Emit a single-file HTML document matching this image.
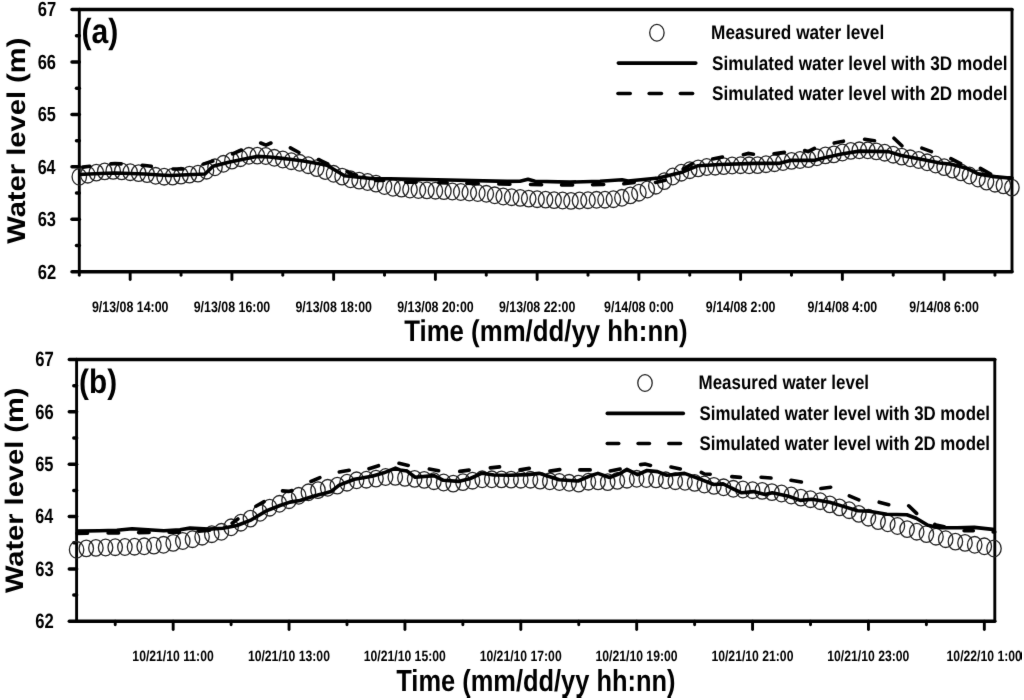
<!DOCTYPE html>
<html><head><meta charset="utf-8"><style>
html,body{margin:0;padding:0;background:#fff;}
svg{display:block;}
svg{filter:grayscale(1);}
text{text-rendering:geometricPrecision;font-family:"Liberation Sans",sans-serif;font-weight:bold;fill:#000;}
</style></head><body>
<svg width="1024" height="700" viewBox="0 0 1024 700">
<defs><filter id="bl" x="0" y="0" width="1" height="1" color-interpolation-filters="sRGB"><feConvolveMatrix order="3" kernelMatrix="0.00524 0.06192 0.00524 0.06192 0.73137 0.06192 0.00524 0.06192 0.00524" edgeMode="duplicate" preserveAlpha="false"/></filter></defs>
<rect width="1024" height="700" fill="#fff"/>
<g filter="url(#bl)">
<g stroke="#000" stroke-linecap="round">
<line x1="79.30" y1="9.60" x2="1012.00" y2="9.60" stroke-width="3.5"/>
<line x1="79.30" y1="271.70" x2="1012.00" y2="271.70" stroke-width="3.5"/>
<line x1="79.30" y1="9.60" x2="79.30" y2="271.70" stroke-width="2.9"/>
<line x1="1012.00" y1="9.60" x2="1012.00" y2="271.70" stroke-width="2.9"/>
<line x1="72.00" y1="9.60" x2="79.30" y2="9.60" stroke-width="3.5"/>
<line x1="72.00" y1="62.02" x2="79.30" y2="62.02" stroke-width="3.5"/>
<line x1="72.00" y1="114.44" x2="79.30" y2="114.44" stroke-width="3.5"/>
<line x1="72.00" y1="166.86" x2="79.30" y2="166.86" stroke-width="3.5"/>
<line x1="72.00" y1="219.28" x2="79.30" y2="219.28" stroke-width="3.5"/>
<line x1="72.00" y1="271.70" x2="79.30" y2="271.70" stroke-width="3.5"/>
<line x1="76.50" y1="35.81" x2="79.30" y2="35.81" stroke-width="3.5"/>
<line x1="76.50" y1="88.23" x2="79.30" y2="88.23" stroke-width="3.5"/>
<line x1="76.50" y1="140.65" x2="79.30" y2="140.65" stroke-width="3.5"/>
<line x1="76.50" y1="193.07" x2="79.30" y2="193.07" stroke-width="3.5"/>
<line x1="76.50" y1="245.49" x2="79.30" y2="245.49" stroke-width="3.5"/>
<line x1="79.30" y1="271.70" x2="79.30" y2="275.30" stroke-width="2.9"/>
<line x1="130.17" y1="271.70" x2="130.17" y2="279.50" stroke-width="2.9"/>
<line x1="181.04" y1="271.70" x2="181.04" y2="275.30" stroke-width="2.9"/>
<line x1="231.91" y1="271.70" x2="231.91" y2="279.50" stroke-width="2.9"/>
<line x1="282.78" y1="271.70" x2="282.78" y2="275.30" stroke-width="2.9"/>
<line x1="333.65" y1="271.70" x2="333.65" y2="279.50" stroke-width="2.9"/>
<line x1="384.52" y1="271.70" x2="384.52" y2="275.30" stroke-width="2.9"/>
<line x1="435.39" y1="271.70" x2="435.39" y2="279.50" stroke-width="2.9"/>
<line x1="486.26" y1="271.70" x2="486.26" y2="275.30" stroke-width="2.9"/>
<line x1="537.13" y1="271.70" x2="537.13" y2="279.50" stroke-width="2.9"/>
<line x1="588.00" y1="271.70" x2="588.00" y2="275.30" stroke-width="2.9"/>
<line x1="638.87" y1="271.70" x2="638.87" y2="279.50" stroke-width="2.9"/>
<line x1="689.74" y1="271.70" x2="689.74" y2="275.30" stroke-width="2.9"/>
<line x1="740.61" y1="271.70" x2="740.61" y2="279.50" stroke-width="2.9"/>
<line x1="791.48" y1="271.70" x2="791.48" y2="275.30" stroke-width="2.9"/>
<line x1="842.35" y1="271.70" x2="842.35" y2="279.50" stroke-width="2.9"/>
<line x1="893.22" y1="271.70" x2="893.22" y2="275.30" stroke-width="2.9"/>
<line x1="944.09" y1="271.70" x2="944.09" y2="279.50" stroke-width="2.9"/>
<line x1="994.96" y1="271.70" x2="994.96" y2="275.30" stroke-width="2.9"/>
<line x1="76.60" y1="359.50" x2="994.80" y2="359.50" stroke-width="3.5"/>
<line x1="76.60" y1="621.30" x2="994.80" y2="621.30" stroke-width="3.5"/>
<line x1="76.60" y1="359.50" x2="76.60" y2="621.30" stroke-width="2.9"/>
<line x1="994.80" y1="359.50" x2="994.80" y2="621.30" stroke-width="2.9"/>
<line x1="69.30" y1="359.50" x2="76.60" y2="359.50" stroke-width="3.5"/>
<line x1="69.30" y1="411.86" x2="76.60" y2="411.86" stroke-width="3.5"/>
<line x1="69.30" y1="464.22" x2="76.60" y2="464.22" stroke-width="3.5"/>
<line x1="69.30" y1="516.58" x2="76.60" y2="516.58" stroke-width="3.5"/>
<line x1="69.30" y1="568.94" x2="76.60" y2="568.94" stroke-width="3.5"/>
<line x1="69.30" y1="621.30" x2="76.60" y2="621.30" stroke-width="3.5"/>
<line x1="73.80" y1="385.68" x2="76.60" y2="385.68" stroke-width="3.5"/>
<line x1="73.80" y1="438.04" x2="76.60" y2="438.04" stroke-width="3.5"/>
<line x1="73.80" y1="490.40" x2="76.60" y2="490.40" stroke-width="3.5"/>
<line x1="73.80" y1="542.76" x2="76.60" y2="542.76" stroke-width="3.5"/>
<line x1="73.80" y1="595.12" x2="76.60" y2="595.12" stroke-width="3.5"/>
<line x1="115.23" y1="621.30" x2="115.23" y2="624.70" stroke-width="2.9"/>
<line x1="173.17" y1="621.30" x2="173.17" y2="629.60" stroke-width="2.9"/>
<line x1="231.11" y1="621.30" x2="231.11" y2="624.70" stroke-width="2.9"/>
<line x1="289.05" y1="621.30" x2="289.05" y2="629.60" stroke-width="2.9"/>
<line x1="346.99" y1="621.30" x2="346.99" y2="624.70" stroke-width="2.9"/>
<line x1="404.93" y1="621.30" x2="404.93" y2="629.60" stroke-width="2.9"/>
<line x1="462.87" y1="621.30" x2="462.87" y2="624.70" stroke-width="2.9"/>
<line x1="520.81" y1="621.30" x2="520.81" y2="629.60" stroke-width="2.9"/>
<line x1="578.75" y1="621.30" x2="578.75" y2="624.70" stroke-width="2.9"/>
<line x1="636.69" y1="621.30" x2="636.69" y2="629.60" stroke-width="2.9"/>
<line x1="694.63" y1="621.30" x2="694.63" y2="624.70" stroke-width="2.9"/>
<line x1="752.57" y1="621.30" x2="752.57" y2="629.60" stroke-width="2.9"/>
<line x1="810.51" y1="621.30" x2="810.51" y2="624.70" stroke-width="2.9"/>
<line x1="868.45" y1="621.30" x2="868.45" y2="629.60" stroke-width="2.9"/>
<line x1="926.39" y1="621.30" x2="926.39" y2="624.70" stroke-width="2.9"/>
<line x1="984.33" y1="621.30" x2="984.33" y2="629.60" stroke-width="2.9"/>
</g>
<g>
<text transform="translate(37.68,16.45) scale(0.8098,1)" font-size="20.50">67</text>
<text transform="translate(37.68,68.87) scale(0.8039,1)" font-size="20.50">66</text>
<text transform="translate(37.69,121.29) scale(0.7982,1)" font-size="20.50">65</text>
<text transform="translate(37.70,173.71) scale(0.7813,1)" font-size="20.50">64</text>
<text transform="translate(37.68,226.13) scale(0.8039,1)" font-size="20.50">63</text>
<text transform="translate(37.68,278.55) scale(0.8078,1)" font-size="20.50">62</text>
<text transform="translate(35.17,366.40) scale(0.8089,1)" font-size="20.65">67</text>
<text transform="translate(35.18,418.76) scale(0.8030,1)" font-size="20.65">66</text>
<text transform="translate(35.18,471.12) scale(0.7972,1)" font-size="20.65">65</text>
<text transform="translate(35.20,523.48) scale(0.7804,1)" font-size="20.65">64</text>
<text transform="translate(35.18,575.84) scale(0.8030,1)" font-size="20.65">63</text>
<text transform="translate(35.18,628.20) scale(0.8069,1)" font-size="20.65">62</text>
<text transform="translate(91.94,311.70) scale(0.8162,1)" font-size="15.20">9/13/08 14:00</text>
<text transform="translate(193.68,311.70) scale(0.8162,1)" font-size="15.20">9/13/08 16:00</text>
<text transform="translate(295.42,311.70) scale(0.8162,1)" font-size="15.20">9/13/08 18:00</text>
<text transform="translate(397.16,311.70) scale(0.8162,1)" font-size="15.20">9/13/08 20:00</text>
<text transform="translate(498.90,311.70) scale(0.8162,1)" font-size="15.20">9/13/08 22:00</text>
<text transform="translate(604.08,311.70) scale(0.8162,1)" font-size="15.20">9/14/08 0:00</text>
<text transform="translate(705.82,311.70) scale(0.8162,1)" font-size="15.20">9/14/08 2:00</text>
<text transform="translate(807.56,311.70) scale(0.8162,1)" font-size="15.20">9/14/08 4:00</text>
<text transform="translate(909.30,311.70) scale(0.8162,1)" font-size="15.20">9/14/08 6:00</text>
<text transform="translate(132.35,660.75) scale(0.8177,1)" font-size="14.91">10/21/10 11:00</text>
<text transform="translate(247.90,660.75) scale(0.8177,1)" font-size="14.91">10/21/10 13:00</text>
<text transform="translate(363.78,660.75) scale(0.8177,1)" font-size="14.91">10/21/10 15:00</text>
<text transform="translate(479.66,660.75) scale(0.8177,1)" font-size="14.91">10/21/10 17:00</text>
<text transform="translate(595.54,660.75) scale(0.8177,1)" font-size="14.91">10/21/10 19:00</text>
<text transform="translate(711.42,660.75) scale(0.8177,1)" font-size="14.91">10/21/10 21:00</text>
<text transform="translate(827.30,660.75) scale(0.8177,1)" font-size="14.91">10/21/10 23:00</text>
<text transform="translate(946.58,660.75) scale(0.8177,1)" font-size="14.91">10/22/10 1:00</text>
<text transform="translate(404.18,341.10) scale(0.8615,1)" font-size="29.96">Time (mm/dd/yy hh:nn)</text>
<text transform="translate(396.28,690.90) scale(0.8365,1)" font-size="30.40">Time (mm/dd/yy hh:nn)</text>
<text transform="translate(24.90,243.77) rotate(-90) scale(1.1356,1)" font-size="25.66">Water level (m)</text>
<text transform="translate(23.00,593.07) rotate(-90) scale(1.1446,1)" font-size="25.38">Water level (m)</text>
<text transform="translate(81.59,42.90) scale(0.8663,1)" font-size="34.76">(a)</text>
<text transform="translate(79.11,393.20) scale(0.8760,1)" font-size="33.93">(b)</text>
<text transform="translate(711.04,39.20) scale(0.8707,1)" font-size="19.78">Measured water level</text>
<text transform="translate(711.98,69.50) scale(0.8680,1)" font-size="19.78">Simulated water level with 3D model</text>
<text transform="translate(711.98,100.20) scale(0.8680,1)" font-size="19.78">Simulated water level with 2D model</text>
<text transform="translate(698.56,389.20) scale(0.8574,1)" font-size="19.78">Measured water level</text>
<text transform="translate(699.49,419.70) scale(0.8533,1)" font-size="19.78">Simulated water level with 3D model</text>
<text transform="translate(699.49,450.20) scale(0.8533,1)" font-size="19.78">Simulated water level with 2D model</text>
</g>
<g stroke="#000">
<ellipse cx="656.9" cy="32.75" rx="7.2" ry="8.3" fill="none" stroke="#222" stroke-width="1.3"/>
<line x1="618.3" y1="63.1" x2="695.8" y2="63.1" stroke-width="3.6" stroke-linecap="round"/>
<line x1="618" y1="93.5" x2="630.2" y2="93.5" stroke-width="3.6" stroke-linecap="round"/>
<line x1="649.2" y1="93.5" x2="661.4" y2="93.5" stroke-width="3.6" stroke-linecap="round"/>
<line x1="680.4" y1="93.5" x2="692.6" y2="93.5" stroke-width="3.6" stroke-linecap="round"/>
<ellipse cx="645" cy="383" rx="7.2" ry="8.3" fill="none" stroke="#222" stroke-width="1.3"/>
<line x1="607.3" y1="413.4" x2="683.3" y2="413.4" stroke-width="3.6" stroke-linecap="round"/>
<line x1="607.3" y1="443.5" x2="618.7" y2="443.5" stroke-width="3.6" stroke-linecap="round"/>
<line x1="638.1" y1="443.5" x2="649.4" y2="443.5" stroke-width="3.6" stroke-linecap="round"/>
<line x1="668.8" y1="443.5" x2="680.5" y2="443.5" stroke-width="3.6" stroke-linecap="round"/>
<g fill="none" stroke="#222" stroke-width="1.3"><ellipse cx="79.3" cy="176.8" rx="7.2" ry="8.3"/><ellipse cx="87.8" cy="174.7" rx="7.2" ry="8.3"/><ellipse cx="96.3" cy="172.6" rx="7.2" ry="8.3"/><ellipse cx="104.7" cy="171.4" rx="7.2" ry="8.3"/><ellipse cx="113.2" cy="170.9" rx="7.2" ry="8.3"/><ellipse cx="121.7" cy="171.4" rx="7.2" ry="8.3"/><ellipse cx="130.2" cy="172.2" rx="7.2" ry="8.3"/><ellipse cx="138.6" cy="173.1" rx="7.2" ry="8.3"/><ellipse cx="147.1" cy="174.1" rx="7.2" ry="8.3"/><ellipse cx="155.6" cy="175.8" rx="7.2" ry="8.3"/><ellipse cx="164.1" cy="176.7" rx="7.2" ry="8.3"/><ellipse cx="172.6" cy="176.6" rx="7.2" ry="8.3"/><ellipse cx="181.0" cy="175.6" rx="7.2" ry="8.3"/><ellipse cx="189.5" cy="174.6" rx="7.2" ry="8.3"/><ellipse cx="198.0" cy="173.6" rx="7.2" ry="8.3"/><ellipse cx="206.5" cy="170.7" rx="7.2" ry="8.3"/><ellipse cx="215.0" cy="167.3" rx="7.2" ry="8.3"/><ellipse cx="223.4" cy="163.8" rx="7.2" ry="8.3"/><ellipse cx="231.9" cy="160.6" rx="7.2" ry="8.3"/><ellipse cx="240.4" cy="158.2" rx="7.2" ry="8.3"/><ellipse cx="248.9" cy="155.8" rx="7.2" ry="8.3"/><ellipse cx="257.3" cy="155.6" rx="7.2" ry="8.3"/><ellipse cx="265.8" cy="156.0" rx="7.2" ry="8.3"/><ellipse cx="274.3" cy="157.8" rx="7.2" ry="8.3"/><ellipse cx="282.8" cy="159.5" rx="7.2" ry="8.3"/><ellipse cx="291.3" cy="161.2" rx="7.2" ry="8.3"/><ellipse cx="299.7" cy="162.8" rx="7.2" ry="8.3"/><ellipse cx="308.2" cy="165.2" rx="7.2" ry="8.3"/><ellipse cx="316.7" cy="168.1" rx="7.2" ry="8.3"/><ellipse cx="325.2" cy="171.0" rx="7.2" ry="8.3"/><ellipse cx="333.6" cy="173.8" rx="7.2" ry="8.3"/><ellipse cx="342.1" cy="176.6" rx="7.2" ry="8.3"/><ellipse cx="350.6" cy="179.3" rx="7.2" ry="8.3"/><ellipse cx="359.1" cy="180.6" rx="7.2" ry="8.3"/><ellipse cx="367.6" cy="182.0" rx="7.2" ry="8.3"/><ellipse cx="376.0" cy="183.6" rx="7.2" ry="8.3"/><ellipse cx="384.5" cy="186.0" rx="7.2" ry="8.3"/><ellipse cx="393.0" cy="187.8" rx="7.2" ry="8.3"/><ellipse cx="401.5" cy="188.6" rx="7.2" ry="8.3"/><ellipse cx="410.0" cy="189.5" rx="7.2" ry="8.3"/><ellipse cx="418.4" cy="190.0" rx="7.2" ry="8.3"/><ellipse cx="426.9" cy="190.4" rx="7.2" ry="8.3"/><ellipse cx="435.4" cy="190.7" rx="7.2" ry="8.3"/><ellipse cx="443.9" cy="191.1" rx="7.2" ry="8.3"/><ellipse cx="452.3" cy="191.5" rx="7.2" ry="8.3"/><ellipse cx="460.8" cy="192.0" rx="7.2" ry="8.3"/><ellipse cx="469.3" cy="192.5" rx="7.2" ry="8.3"/><ellipse cx="477.8" cy="193.0" rx="7.2" ry="8.3"/><ellipse cx="486.3" cy="193.8" rx="7.2" ry="8.3"/><ellipse cx="494.7" cy="195.3" rx="7.2" ry="8.3"/><ellipse cx="503.2" cy="196.5" rx="7.2" ry="8.3"/><ellipse cx="511.7" cy="197.2" rx="7.2" ry="8.3"/><ellipse cx="520.2" cy="197.9" rx="7.2" ry="8.3"/><ellipse cx="528.7" cy="198.6" rx="7.2" ry="8.3"/><ellipse cx="537.1" cy="199.2" rx="7.2" ry="8.3"/><ellipse cx="545.6" cy="199.6" rx="7.2" ry="8.3"/><ellipse cx="554.1" cy="200.1" rx="7.2" ry="8.3"/><ellipse cx="562.6" cy="200.5" rx="7.2" ry="8.3"/><ellipse cx="571.0" cy="200.9" rx="7.2" ry="8.3"/><ellipse cx="579.5" cy="200.5" rx="7.2" ry="8.3"/><ellipse cx="588.0" cy="200.2" rx="7.2" ry="8.3"/><ellipse cx="596.5" cy="199.8" rx="7.2" ry="8.3"/><ellipse cx="605.0" cy="199.7" rx="7.2" ry="8.3"/><ellipse cx="613.4" cy="199.2" rx="7.2" ry="8.3"/><ellipse cx="621.9" cy="197.8" rx="7.2" ry="8.3"/><ellipse cx="630.4" cy="195.4" rx="7.2" ry="8.3"/><ellipse cx="638.9" cy="192.7" rx="7.2" ry="8.3"/><ellipse cx="647.3" cy="189.5" rx="7.2" ry="8.3"/><ellipse cx="655.8" cy="185.7" rx="7.2" ry="8.3"/><ellipse cx="664.3" cy="181.1" rx="7.2" ry="8.3"/><ellipse cx="672.8" cy="176.5" rx="7.2" ry="8.3"/><ellipse cx="681.3" cy="172.7" rx="7.2" ry="8.3"/><ellipse cx="689.7" cy="170.2" rx="7.2" ry="8.3"/><ellipse cx="698.2" cy="168.4" rx="7.2" ry="8.3"/><ellipse cx="706.7" cy="167.0" rx="7.2" ry="8.3"/><ellipse cx="715.2" cy="166.7" rx="7.2" ry="8.3"/><ellipse cx="723.7" cy="166.1" rx="7.2" ry="8.3"/><ellipse cx="732.1" cy="165.5" rx="7.2" ry="8.3"/><ellipse cx="740.6" cy="165.2" rx="7.2" ry="8.3"/><ellipse cx="749.1" cy="165.3" rx="7.2" ry="8.3"/><ellipse cx="757.6" cy="165.1" rx="7.2" ry="8.3"/><ellipse cx="766.0" cy="164.2" rx="7.2" ry="8.3"/><ellipse cx="774.5" cy="163.2" rx="7.2" ry="8.3"/><ellipse cx="783.0" cy="162.0" rx="7.2" ry="8.3"/><ellipse cx="791.5" cy="160.9" rx="7.2" ry="8.3"/><ellipse cx="800.0" cy="160.0" rx="7.2" ry="8.3"/><ellipse cx="808.4" cy="159.1" rx="7.2" ry="8.3"/><ellipse cx="816.9" cy="157.3" rx="7.2" ry="8.3"/><ellipse cx="825.4" cy="155.4" rx="7.2" ry="8.3"/><ellipse cx="833.9" cy="154.4" rx="7.2" ry="8.3"/><ellipse cx="842.4" cy="152.5" rx="7.2" ry="8.3"/><ellipse cx="850.8" cy="150.9" rx="7.2" ry="8.3"/><ellipse cx="859.3" cy="150.3" rx="7.2" ry="8.3"/><ellipse cx="867.8" cy="150.3" rx="7.2" ry="8.3"/><ellipse cx="876.3" cy="151.4" rx="7.2" ry="8.3"/><ellipse cx="884.7" cy="152.7" rx="7.2" ry="8.3"/><ellipse cx="893.2" cy="154.7" rx="7.2" ry="8.3"/><ellipse cx="901.7" cy="156.6" rx="7.2" ry="8.3"/><ellipse cx="910.2" cy="158.3" rx="7.2" ry="8.3"/><ellipse cx="918.7" cy="160.0" rx="7.2" ry="8.3"/><ellipse cx="927.1" cy="162.3" rx="7.2" ry="8.3"/><ellipse cx="935.6" cy="164.5" rx="7.2" ry="8.3"/><ellipse cx="944.1" cy="167.1" rx="7.2" ry="8.3"/><ellipse cx="952.6" cy="169.6" rx="7.2" ry="8.3"/><ellipse cx="961.0" cy="172.4" rx="7.2" ry="8.3"/><ellipse cx="969.5" cy="175.5" rx="7.2" ry="8.3"/><ellipse cx="978.0" cy="178.5" rx="7.2" ry="8.3"/><ellipse cx="986.5" cy="181.6" rx="7.2" ry="8.3"/><ellipse cx="995.0" cy="183.7" rx="7.2" ry="8.3"/><ellipse cx="1003.4" cy="185.4" rx="7.2" ry="8.3"/><ellipse cx="1011.9" cy="187.6" rx="7.2" ry="8.3"/></g>
<path d="M79.0,174.5 L100.0,173.5 L115.0,173.0 L130.0,173.5 L145.0,174.0 L160.0,175.0 L170.0,175.5 L205.0,174.0 L213.0,166.3 L228.6,162.2 L256.7,156.4 L269.6,157.0 L280.0,158.1 L290.0,159.3 L303.4,161.0 L326.9,165.2 L344.5,175.7 L373.8,178.7 L390.0,178.8 L448.6,180.0 L507.0,181.4 L520.0,181.2 L528.0,179.2 L535.0,181.2 L570.0,182.1 L600.0,181.2 L622.0,179.8 L628.0,181.0 L658.6,178.0 L682.9,171.9 L697.5,165.8 L720.0,164.5 L755.0,163.4 L778.6,163.4 L790.3,160.4 L813.8,160.4 L825.5,157.5 L841.7,154.0 L859.3,151.1 L888.6,151.6 L900.3,155.2 L923.8,159.8 L940.0,163.0 L951.4,164.3 L967.5,168.6 L978.2,173.9 L994.3,176.6 L1012.0,178.2" fill="none" stroke="#000" stroke-width="3.6" stroke-linejoin="round" />
<path d="M82.7,167.1 L89.8,166.2 M111.0,163.9 L115.0,163.5 L121.1,163.9 M142.2,165.3 L145.0,165.5 L151.3,166.3 M173.0,169.0 L182.8,169.0 M203.3,164.1 L212.8,161.0 M232.6,153.9 L241.4,150.0 M260.7,143.0 L266.0,145.2 L270.9,143.0 M290.4,147.9 L298.9,152.5 M318.5,159.5 L327.6,163.8 M347.1,171.4 L350.3,173.4 L356.3,175.2 M375.6,180.4 L383.7,180.4 M405.8,182.1 L416.2,182.3 M438.8,182.8 L447.2,182.9 M466.8,183.3 L478.2,183.6 M498.8,184.0 L500.0,184.0 L509.9,184.2 M530.5,184.5 L541.6,184.7 M561.6,184.9 L572.6,185.0 M592.6,184.7 L603.7,184.5 M623.8,183.8 L634.2,182.4 M655.5,182.4 L665.2,180.2 M683.2,169.1 L692.3,163.7 M712.6,158.9 L722.4,157.0 M743.4,154.7 L748.0,153.4 L753.4,154.3 M774.0,153.8 L784.4,152.4 M804.7,150.5 L808.0,151.6 L814.4,148.3 M834.2,143.1 L843.4,141.2 M864.6,139.3 L874.5,140.7 M894.0,138.2 L901.9,145.8 M921.9,148.1 L931.4,151.6 M950.9,158.7 L960.6,163.5 M980.4,168.4 L990.6,174.1 M1008.8,177.7 L1012.0,178.0" fill="none" stroke="#000" stroke-width="3.6" stroke-linecap="round" stroke-linejoin="round"/>
<g fill="none" stroke="#222" stroke-width="1.3"><ellipse cx="76.6" cy="549.8" rx="7.2" ry="8.3"/><ellipse cx="86.3" cy="548.4" rx="7.2" ry="8.3"/><ellipse cx="95.9" cy="547.9" rx="7.2" ry="8.3"/><ellipse cx="105.6" cy="547.5" rx="7.2" ry="8.3"/><ellipse cx="115.2" cy="547.2" rx="7.2" ry="8.3"/><ellipse cx="124.9" cy="547.0" rx="7.2" ry="8.3"/><ellipse cx="134.5" cy="546.7" rx="7.2" ry="8.3"/><ellipse cx="144.2" cy="546.3" rx="7.2" ry="8.3"/><ellipse cx="153.9" cy="545.6" rx="7.2" ry="8.3"/><ellipse cx="163.5" cy="544.8" rx="7.2" ry="8.3"/><ellipse cx="173.2" cy="542.9" rx="7.2" ry="8.3"/><ellipse cx="182.8" cy="541.0" rx="7.2" ry="8.3"/><ellipse cx="192.5" cy="539.2" rx="7.2" ry="8.3"/><ellipse cx="202.1" cy="536.7" rx="7.2" ry="8.3"/><ellipse cx="211.8" cy="534.2" rx="7.2" ry="8.3"/><ellipse cx="221.4" cy="531.8" rx="7.2" ry="8.3"/><ellipse cx="231.1" cy="527.3" rx="7.2" ry="8.3"/><ellipse cx="240.8" cy="522.7" rx="7.2" ry="8.3"/><ellipse cx="250.4" cy="518.6" rx="7.2" ry="8.3"/><ellipse cx="260.1" cy="512.8" rx="7.2" ry="8.3"/><ellipse cx="269.7" cy="507.7" rx="7.2" ry="8.3"/><ellipse cx="279.4" cy="503.8" rx="7.2" ry="8.3"/><ellipse cx="289.0" cy="500.2" rx="7.2" ry="8.3"/><ellipse cx="298.7" cy="495.8" rx="7.2" ry="8.3"/><ellipse cx="308.4" cy="492.3" rx="7.2" ry="8.3"/><ellipse cx="318.0" cy="490.1" rx="7.2" ry="8.3"/><ellipse cx="327.7" cy="487.8" rx="7.2" ry="8.3"/><ellipse cx="337.3" cy="485.6" rx="7.2" ry="8.3"/><ellipse cx="347.0" cy="482.7" rx="7.2" ry="8.3"/><ellipse cx="356.6" cy="480.3" rx="7.2" ry="8.3"/><ellipse cx="366.3" cy="479.7" rx="7.2" ry="8.3"/><ellipse cx="376.0" cy="478.6" rx="7.2" ry="8.3"/><ellipse cx="385.6" cy="477.0" rx="7.2" ry="8.3"/><ellipse cx="395.3" cy="476.9" rx="7.2" ry="8.3"/><ellipse cx="404.9" cy="477.9" rx="7.2" ry="8.3"/><ellipse cx="414.6" cy="478.9" rx="7.2" ry="8.3"/><ellipse cx="424.2" cy="479.9" rx="7.2" ry="8.3"/><ellipse cx="433.9" cy="481.2" rx="7.2" ry="8.3"/><ellipse cx="443.6" cy="482.5" rx="7.2" ry="8.3"/><ellipse cx="453.2" cy="483.6" rx="7.2" ry="8.3"/><ellipse cx="462.9" cy="482.1" rx="7.2" ry="8.3"/><ellipse cx="472.5" cy="480.7" rx="7.2" ry="8.3"/><ellipse cx="482.2" cy="479.3" rx="7.2" ry="8.3"/><ellipse cx="491.8" cy="479.3" rx="7.2" ry="8.3"/><ellipse cx="501.5" cy="479.4" rx="7.2" ry="8.3"/><ellipse cx="511.1" cy="479.6" rx="7.2" ry="8.3"/><ellipse cx="520.8" cy="479.7" rx="7.2" ry="8.3"/><ellipse cx="530.5" cy="479.7" rx="7.2" ry="8.3"/><ellipse cx="540.1" cy="480.6" rx="7.2" ry="8.3"/><ellipse cx="549.8" cy="481.3" rx="7.2" ry="8.3"/><ellipse cx="559.4" cy="482.0" rx="7.2" ry="8.3"/><ellipse cx="569.1" cy="482.8" rx="7.2" ry="8.3"/><ellipse cx="578.7" cy="483.6" rx="7.2" ry="8.3"/><ellipse cx="588.4" cy="481.7" rx="7.2" ry="8.3"/><ellipse cx="598.1" cy="481.4" rx="7.2" ry="8.3"/><ellipse cx="607.7" cy="482.1" rx="7.2" ry="8.3"/><ellipse cx="617.4" cy="480.9" rx="7.2" ry="8.3"/><ellipse cx="627.0" cy="479.7" rx="7.2" ry="8.3"/><ellipse cx="636.7" cy="478.8" rx="7.2" ry="8.3"/><ellipse cx="646.3" cy="479.0" rx="7.2" ry="8.3"/><ellipse cx="656.0" cy="479.4" rx="7.2" ry="8.3"/><ellipse cx="665.7" cy="480.3" rx="7.2" ry="8.3"/><ellipse cx="675.3" cy="481.2" rx="7.2" ry="8.3"/><ellipse cx="685.0" cy="481.8" rx="7.2" ry="8.3"/><ellipse cx="694.6" cy="482.9" rx="7.2" ry="8.3"/><ellipse cx="704.3" cy="484.5" rx="7.2" ry="8.3"/><ellipse cx="713.9" cy="485.9" rx="7.2" ry="8.3"/><ellipse cx="723.6" cy="487.3" rx="7.2" ry="8.3"/><ellipse cx="733.3" cy="488.8" rx="7.2" ry="8.3"/><ellipse cx="742.9" cy="489.5" rx="7.2" ry="8.3"/><ellipse cx="752.6" cy="490.2" rx="7.2" ry="8.3"/><ellipse cx="762.2" cy="490.9" rx="7.2" ry="8.3"/><ellipse cx="771.9" cy="492.1" rx="7.2" ry="8.3"/><ellipse cx="781.5" cy="493.5" rx="7.2" ry="8.3"/><ellipse cx="791.2" cy="495.5" rx="7.2" ry="8.3"/><ellipse cx="800.9" cy="497.6" rx="7.2" ry="8.3"/><ellipse cx="810.5" cy="499.2" rx="7.2" ry="8.3"/><ellipse cx="820.2" cy="501.2" rx="7.2" ry="8.3"/><ellipse cx="829.8" cy="504.4" rx="7.2" ry="8.3"/><ellipse cx="839.5" cy="507.4" rx="7.2" ry="8.3"/><ellipse cx="849.1" cy="510.2" rx="7.2" ry="8.3"/><ellipse cx="858.8" cy="513.9" rx="7.2" ry="8.3"/><ellipse cx="868.4" cy="517.7" rx="7.2" ry="8.3"/><ellipse cx="878.1" cy="521.1" rx="7.2" ry="8.3"/><ellipse cx="887.8" cy="523.3" rx="7.2" ry="8.3"/><ellipse cx="897.4" cy="526.0" rx="7.2" ry="8.3"/><ellipse cx="907.1" cy="529.1" rx="7.2" ry="8.3"/><ellipse cx="916.7" cy="531.7" rx="7.2" ry="8.3"/><ellipse cx="926.4" cy="534.1" rx="7.2" ry="8.3"/><ellipse cx="936.0" cy="536.7" rx="7.2" ry="8.3"/><ellipse cx="945.7" cy="539.2" rx="7.2" ry="8.3"/><ellipse cx="955.4" cy="541.6" rx="7.2" ry="8.3"/><ellipse cx="965.0" cy="542.9" rx="7.2" ry="8.3"/><ellipse cx="974.7" cy="544.8" rx="7.2" ry="8.3"/><ellipse cx="984.3" cy="546.3" rx="7.2" ry="8.3"/><ellipse cx="994.0" cy="548.5" rx="7.2" ry="8.3"/></g>
<path d="M76.6,531.1 L99.3,530.7 L116.9,530.2 L132.1,528.7 L163.8,530.7 L180.0,529.7 L190.0,528.1 L208.6,529.1 L222.9,528.3 L237.1,525.5 L251.4,519.8 L265.7,511.2 L280.0,505.5 L290.0,502.1 L300.0,500.5 L313.4,496.3 L331.0,491.6 L339.2,485.1 L354.5,479.3 L372.0,476.3 L383.8,472.8 L395.5,468.1 L400.0,469.9 L407.0,471.1 L415.2,477.3 L434.0,475.6 L443.4,480.3 L458.6,481.4 L470.3,478.5 L482.0,473.2 L493.8,475.0 L510.0,475.2 L527.6,474.6 L539.3,473.4 L545.2,475.2 L559.2,479.8 L578.0,481.0 L592.0,475.2 L597.9,473.4 L609.6,477.5 L620.0,473.5 L627.0,469.3 L637.6,474.6 L647.0,470.5 L657.5,471.6 L666.9,475.2 L684.5,473.4 L702.0,479.8 L713.8,484.5 L723.1,483.9 L731.3,488.0 L741.7,492.8 L753.4,491.6 L765.2,494.6 L772.2,492.8 L788.6,496.3 L800.3,500.4 L812.0,499.3 L829.6,502.2 L840.0,505.4 L857.6,510.7 L869.3,511.3 L886.9,514.2 L906.8,514.8 L916.2,518.3 L927.9,525.3 L939.6,527.7 L957.1,527.8 L974.3,527.4 L994.8,529.6" fill="none" stroke="#000" stroke-width="3.6" stroke-linejoin="round" />
<path d="M77.0,533.4 L87.5,533.3 M108.1,533.0 L118.6,532.9 M138.6,532.6 L149.1,532.5 M169.1,532.3 L179.5,532.1 M198.8,531.2 L209.6,530.1 M232.1,523.2 L237.9,519.0 M255.9,506.2 L264.1,501.6 M282.5,490.9 L288.6,491.4 L291.9,490.5 M311.0,481.5 L319.9,477.6 M339.3,471.9 L349.2,470.2 M369.0,468.8 L378.5,465.7 M399.0,463.3 L408.2,465.4 M429.3,469.0 L438.6,470.8 M459.8,471.4 L469.1,470.1 M490.3,467.9 L499.6,466.9 M520.0,469.9 L529.3,468.4 M549.9,471.1 L559.8,469.6 M579.8,469.9 L590.2,469.9 M610.2,471.0 L620.1,469.1 M640.6,464.6 L645.0,464.0 L650.5,465.4 M671.0,467.1 L680.3,468.9 M701.3,472.3 L704.4,474.0 L710.2,474.2 M731.8,476.6 L740.5,477.4 M761.1,477.2 L771.0,478.0 M791.0,480.2 L801.4,482.0 M820.9,488.5 L830.7,487.2 M849.3,495.9 L858.8,499.8 M879.2,502.2 L888.7,504.7 M908.7,505.8 L916.6,513.4 M934.8,524.3 L936.0,525.0 L944.2,526.8 M964.1,530.8 L973.3,530.8 M993.2,531.9 L994.8,532.0" fill="none" stroke="#000" stroke-width="3.6" stroke-linecap="round" stroke-linejoin="round"/>
</g>
</g>
</svg>
</body></html>
